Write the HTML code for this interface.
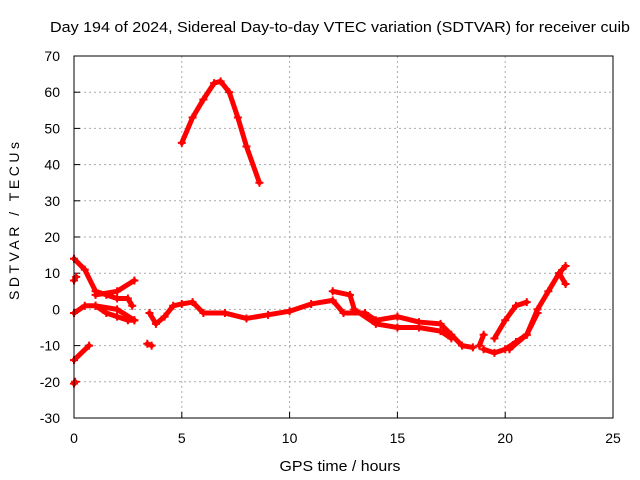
<!DOCTYPE html>
<html><head><meta charset="utf-8"><style>
body{margin:0;background:#fff}
svg{display:block;font-family:"Liberation Sans",sans-serif}
</style></head><body>
<svg id="c" width="640" height="480">
<text x="340" y="32" font-size="15" text-anchor="middle" textLength="580" lengthAdjust="spacingAndGlyphs">Day 194 of 2024, Sidereal Day-to-day VTEC variation (SDTVAR) for receiver cuib</text>
<text x="340" y="471" font-size="15" text-anchor="middle" textLength="121" lengthAdjust="spacingAndGlyphs">GPS time / hours</text>
<text x="19" y="221" font-size="14" text-anchor="middle" textLength="158" lengthAdjust="spacing" transform="rotate(-90 19 221)">SDTVAR / TECUs</text>
<g id="grid"></g><g id="series"></g>
<rect x="74" y="56" width="539" height="362" fill="none" stroke="#000"/>
</svg>
<script>
const xTicks=[0,5,10,15,20,25];
const yTicks=[-30,-20,-10,0,10,20,30,40,50,60,70];
const arcHours=[5.0,5.5,6.0,6.5,6.8,7.2,7.6,8.0,8.6];
const arcVals=[46,53,58,62.5,63,60,53,45,35];
const mainHours=[3.5,3.8,4.2,4.6,5.0,5.5,6.0,7.0,8.0,9,10,11,12,12.5,13.5,14,15,16,17,17.5,18,18.5];
const mainVals=[-1,-4,-2,1,1.5,2,-1,-1,-2.5,-1.5,-0.5,1.5,2.5,-1,-1,-3,-2,-3.5,-4,-7,-10,-10.5];
const secondHours=[12,12.8,13,14,15,16,17,17.5];
const secondVals=[5,4,0,-4,-5,-5,-6,-8];
const earlyAHours=[0,0.5,1,1.5,2,2.5,2.7];const earlyAVals=[14,11,5,4,3,3,1];
const earlyBHours=[0,0.7];const earlyBVals=[-14,-10];
const earlyCHours=[0,0.5,1,1.5,2,2.5,2.8];const earlyCVals=[-1,1,1,-1,-2,-3,-3];
const earlyDHours=[0,0.1];const earlyDVals=[8,9];
const earlyEHours=[0,0.05];const earlyEVals=[-20.5,-20];
const earlyFHours=[1,2,2.8];const earlyFVals=[4,5,8];
const earlyGHours=[1,2,2.8];const earlyGVals=[1,0,-3];
const dipHours=[3.4,3.6];const dipVals=[-9.5,-10];
const lateAHours=[19,19.5,20,20.5,21,21.5,22,22.5,22.8];const lateAVals=[-11,-12,-11,-9,-7,0,5,10,12];
const lateBHours=[19.5,20,20.5,21];const lateBVals=[-8,-3,1,2];
const lateCHours=[20.2,21,21.5];const lateCVals=[-11,-7,-1];
const lateDHours=[18.8,19];const lateDVals=[-10,-7];
const lateEHours=[22.5,22.8];const lateEVals=[10,7];
const X=h=>74+h*(539/25), Y=v=>418-(v+30)*3.62;
const NS="http://www.w3.org/2000/svg";
const g=document.getElementById('grid'), s=document.getElementById('series');
function mk(t,a,p){const e=document.createElementNS(NS,t);for(const k in a)e.setAttribute(k,a[k]);p.appendChild(e);return e;}
xTicks.forEach(t=>{const x=X(t);
 if(t>0&&t<25){const l=mk('line',{x1:x,x2:x,y1:56,y2:418,stroke:'#aaa','stroke-dasharray':'2,3'},g);}
 const tk=mk('line',{x1:x,x2:x,y1:418,y2:412,stroke:'#000'},g);
 const tx=mk('text',{x:x,y:443,'font-size':14,'text-anchor':'middle'},g);tx.textContent=t;});
yTicks.forEach(t=>{const y=Y(t);
 if(t>-30&&t<70){const l=mk('line',{x1:74,x2:613,y1:y,y2:y,stroke:'#aaa','stroke-dasharray':'2,3'},g);}
 const tk=mk('line',{x1:74,x2:80,y1:y,y2:y,stroke:'#000'},g);
 const tx=mk('text',{x:60,y:y+5,'font-size':14,'text-anchor':'end'},g);tx.textContent=t;});
const tracks=[[arcHours,arcVals],[mainHours,mainVals],[secondHours,secondVals],[earlyAHours,earlyAVals],[earlyBHours,earlyBVals],[earlyCHours,earlyCVals],[earlyDHours,earlyDVals],[earlyEHours,earlyEVals],[earlyFHours,earlyFVals],[earlyGHours,earlyGVals],[dipHours,dipVals],[lateAHours,lateAVals],[lateBHours,lateBVals],[lateCHours,lateCVals],[lateDHours,lateDVals],[lateEHours,lateEVals]];
tracks.forEach(([hs,vs])=>{
 const pl=mk('polyline',{points:hs.map((h,i)=>X(h)+','+Y(vs[i])).join(' '),fill:'none',stroke:'#f00','stroke-width':5,'stroke-linejoin':'round','stroke-linecap':'round'},s);
 
 
 hs.forEach((h,i)=>{const x=X(h),y=Y(vs[i]);
  const p=mk('path',{d:`M${x-4},${y}H${x+4}M${x},${y-4}V${y+4}`,stroke:'#f00','stroke-width':2},s);
  
  });
});
</script>
</body></html>
